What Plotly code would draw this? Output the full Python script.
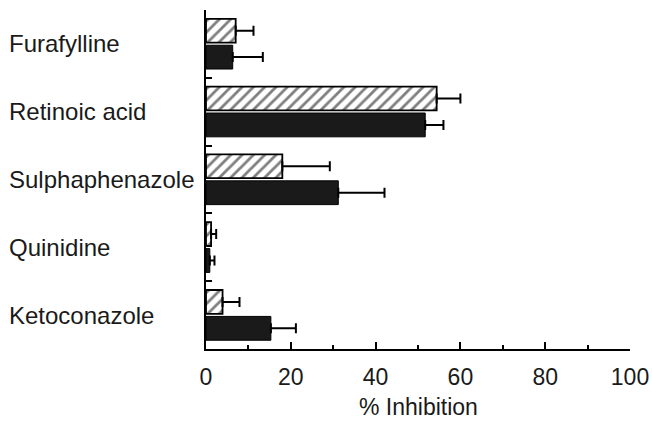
import plotly.graph_objects as go

# Inhibitors and their % inhibition in two conditions
compounds = ["Furafylline", "Retinoic acid", "Sulphaphenazole", "Quinidine", "Ketoconazole"]
hatched_vals = [7.0, 54.4, 18.0, 1.2, 3.9]
hatched_err = [4.2, 5.6, 11.2, 1.2, 4.0]
solid_vals = [6.3, 51.7, 31.2, 0.9, 15.3]
solid_err = [7.1, 4.3, 10.9, 1.1, 5.9]

FONT = "Liberation Sans, Arial, sans-serif"

fig = go.Figure()
fig.add_trace(go.Bar(
    y=compounds, x=hatched_vals, orientation="h",
    marker=dict(color="white", line=dict(color="black", width=1.8),
                pattern=dict(shape="/", fgcolor="black", bgcolor="white", size=8, solidity=0.35)),
    error_x=dict(type="data", array=hatched_err, symmetric=False, arrayminus=[0]*5,
                 color="black", thickness=2, width=5),
    showlegend=False,
))
fig.add_trace(go.Bar(
    y=compounds, x=solid_vals, orientation="h",
    marker=dict(color="#1a1a1a", line=dict(color="black", width=1)),
    error_x=dict(type="data", array=solid_err, symmetric=False, arrayminus=[0]*5,
                 color="black", thickness=2, width=5),
    showlegend=False,
))

# Compound names, left-aligned in the left margin
for name in compounds:
    fig.add_annotation(x=0, xref="paper", xanchor="left", xshift=-199,
                       y=name, yref="y", text=name, showarrow=False,
                       font=dict(family=FONT, size=24, color="#1a1a1a"))

# x-axis title placed below the tick labels
fig.add_annotation(x=50, xref="x", y=0, yref="paper", yanchor="middle", yshift=-58,
                   text="% Inhibition", showarrow=False,
                   font=dict(family=FONT, size=23, color="#1a1a1a"))

fig.update_layout(
    width=652, height=421,
    margin=dict(l=206, r=22, t=10, b=72),
    paper_bgcolor="white", plot_bgcolor="white",
    barmode="group", bargap=0.22, bargroupgap=0.1,
    font=dict(family=FONT, size=23, color="#1a1a1a"),
    xaxis=dict(range=[0, 100], dtick=20, tick0=0, ticks="inside", ticklen=7, tickwidth=1.5,
               tickcolor="black", showline=True, linecolor="black", linewidth=1.5,
               showgrid=False, zeroline=False, automargin=False,
               minor=dict(dtick=10, ticks="inside", ticklen=4, tickwidth=1.5, tickcolor="black"),
               tickfont=dict(size=23), ticklabelstandoff=7),
    yaxis=dict(autorange="reversed", showticklabels=False, ticks="inside", tickson="boundaries",
               ticklen=6, tickwidth=1.5, tickcolor="black", showline=True, linecolor="black",
               linewidth=1.5, showgrid=False, zeroline=False, automargin=False),
)

fig.write_html("out.html")
